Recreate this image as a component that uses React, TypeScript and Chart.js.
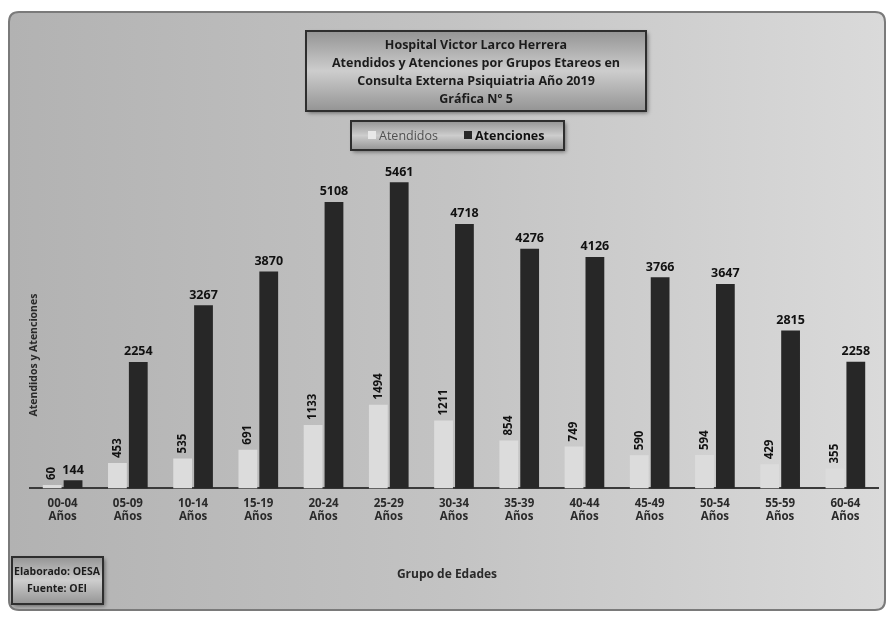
import React, { useEffect, useRef } from "react";
import { Chart, registerables } from "chart.js";

Chart.register(...registerables);

const categories: string[][] = [
  ["00-04", "Años"], ["05-09", "Años"], ["10-14", "Años"], ["15-19", "Años"], ["20-24", "Años"],
  ["25-29", "Años"], ["30-34", "Años"], ["35-39", "Años"], ["40-44", "Años"], ["45-49", "Años"],
  ["50-54", "Años"], ["55-59", "Años"], ["60-64", "Años"],
];
const atendidos = [60, 453, 535, 691, 1133, 1494, 1211, 854, 749, 590, 594, 429, 355];
const atenciones = [144, 2254, 3267, 3870, 5108, 5461, 4718, 4276, 4126, 3766, 3647, 2815, 2258];
const titleLines = [
  "Hospital Victor Larco Herrera",
  "Atendidos y Atenciones por Grupos Etareos en",
  "Consulta Externa Psiquiatria Año 2019",
  "Gráfica Nº 5",
];
const legendLabels = ["Atendidos", "Atenciones"];
const footLines = ["Elaborado: OESA", "Fuente: OEI"];
const yTitle = "Atendidos y Atenciones";
const xTitle = "Grupo de Edades";

const FONT = "'Open Sans', Lato, sans-serif";
const LIGHT = "#dcdcdc";
const DARK = "#272727";

function roundRect(ctx: CanvasRenderingContext2D, x: number, y: number, w: number, h: number, r: number) {
  ctx.beginPath();
  ctx.moveTo(x + r, y);
  ctx.lineTo(x + w - r, y);
  ctx.quadraticCurveTo(x + w, y, x + w, y + r);
  ctx.lineTo(x + w, y + h - r);
  ctx.quadraticCurveTo(x + w, y + h, x + w - r, y + h);
  ctx.lineTo(x + r, y + h);
  ctx.quadraticCurveTo(x, y + h, x, y + h - r);
  ctx.lineTo(x, y + r);
  ctx.quadraticCurveTo(x, y, x + r, y);
  ctx.closePath();
}

function bevelBox(ctx: CanvasRenderingContext2D, x: number, y: number, w: number, h: number) {
  ctx.save();
  ctx.shadowColor = "rgba(0,0,0,0.45)";
  ctx.shadowBlur = 4;
  ctx.shadowOffsetX = 2;
  ctx.shadowOffsetY = 2;
  const g = ctx.createLinearGradient(x, y, x, y + h);
  g.addColorStop(0, "#949494");
  g.addColorStop(0.5, "#cdcdcd");
  g.addColorStop(1, "#949494");
  ctx.fillStyle = g;
  ctx.fillRect(x, y, w, h);
  ctx.restore();
  ctx.strokeStyle = "#2e2e2e";
  ctx.lineWidth = 2;
  ctx.strokeRect(x, y, w, h);
}

const decorPlugin = {
  id: "decor",
  beforeDraw(chart: any) {
    const ctx: CanvasRenderingContext2D = chart.ctx;
    ctx.save();
    ctx.fillStyle = "#ffffff";
    ctx.fillRect(0, 0, chart.width, chart.height);
    const g = ctx.createLinearGradient(10, 0, 885, 0);
    g.addColorStop(0, "#b2b2b2");
    g.addColorStop(0.5, "#c3c3c3");
    g.addColorStop(1, "#dadada");
    roundRect(ctx, 9, 12, 876, 598, 10);
    ctx.fillStyle = g;
    ctx.fill();
    ctx.strokeStyle = "#7a7a7a";
    ctx.lineWidth = 2;
    ctx.stroke();
    ctx.restore();
  },
  afterDraw(chart: any) {
    const ctx: CanvasRenderingContext2D = chart.ctx;
    ctx.save();
    // Title box
    bevelBox(ctx, 306, 31, 340, 80);
    ctx.fillStyle = "#1c1c1c";
    ctx.font = `bold 12.5px ${FONT}`;
    ctx.textAlign = "center";
    ctx.textBaseline = "middle";
    titleLines.forEach((t, i) => ctx.fillText(t, 476, 45 + i * 18));
    // Legend box
    bevelBox(ctx, 351, 121, 213, 29);
    ctx.font = `12.5px ${FONT}`;
    ctx.textAlign = "left";
    ctx.fillStyle = "#e8e8e8";
    ctx.fillRect(368, 131, 8, 8);
    ctx.fillStyle = "#505050";
    ctx.fillText(legendLabels[0], 379, 136);
    ctx.fillStyle = DARK;
    ctx.fillRect(464, 131, 8, 8);
    ctx.font = `bold 12.5px ${FONT}`;
    ctx.fillStyle = "#111";
    ctx.fillText(legendLabels[1], 475, 136);
    // Footnote box
    bevelBox(ctx, 12, 557, 91, 47);
    ctx.textAlign = "center";
    ctx.font = `bold 10.5px ${FONT}`;
    ctx.fillStyle = "#1c1c1c";
    footLines.forEach((t, i) => ctx.fillText(t, 57, 572 + i * 17));
    // Axis titles
    ctx.font = `bold 12px ${FONT}`;
    ctx.fillStyle = "#2a2a2a";
    ctx.fillText(xTitle, 447, 575);
    ctx.save();
    ctx.translate(34, 355);
    ctx.rotate(-Math.PI / 2);
    ctx.font = `bold 10.5px ${FONT}`;
    ctx.fillText(yTitle, 0, 0);
    ctx.restore();
    // Data labels
    ctx.fillStyle = "#111";
    const m0 = chart.getDatasetMeta(0);
    const m1 = chart.getDatasetMeta(1);
    ctx.font = `bold 12.5px ${FONT}`;
    m1.data.forEach((el: any, i: number) => {
      ctx.textAlign = "center";
      ctx.textBaseline = "bottom";
      ctx.fillText(String(atenciones[i]), el.x, el.y - 4);
    });
    ctx.font = `bold 11.5px ${FONT}`;
    m0.data.forEach((el: any, i: number) => {
      ctx.save();
      ctx.translate(el.x, el.y - 5);
      ctx.rotate(-Math.PI / 2);
      ctx.textAlign = "left";
      ctx.textBaseline = "middle";
      ctx.fillText(String(atendidos[i]), 0, 0);
      ctx.restore();
    });
    ctx.restore();
  },
};

export default function App() {
  const ref = useRef<HTMLCanvasElement>(null);
  useEffect(() => {
    if (!ref.current) return;
    const chart = new Chart(ref.current, {
      type: "bar",
      data: {
        labels: categories,
        datasets: [
          { label: legendLabels[0], data: atendidos, backgroundColor: LIGHT, barPercentage: 0.9, categoryPercentage: 0.64 },
          { label: legendLabels[1], data: atenciones, backgroundColor: DARK, barPercentage: 0.9, categoryPercentage: 0.64 },
        ],
      },
      options: {
        responsive: false,
        animation: false,
        layout: { padding: { left: 30, right: 14, top: 152, bottom: 90 } },
        plugins: { legend: { display: false }, title: { display: false }, tooltip: { enabled: false } },
        scales: {
          x: {
            grid: { display: false, drawTicks: false },
            border: { display: true, color: "#3a3a3a", width: 2 },
            ticks: { color: "#2a2a2a", font: { family: FONT, size: 11.5, weight: "bold" }, padding: 8, maxRotation: 0 },
          },
          y: { display: false, min: 0, max: 6000 },
        },
      },
      plugins: [decorPlugin],
    });
    return () => chart.destroy();
  }, []);
  return (
    <div style={{ position: "absolute", left: 0, top: 0, width: 892, height: 622 }}>
      <canvas ref={ref} width={892} height={622} />
    </div>
  );
}
